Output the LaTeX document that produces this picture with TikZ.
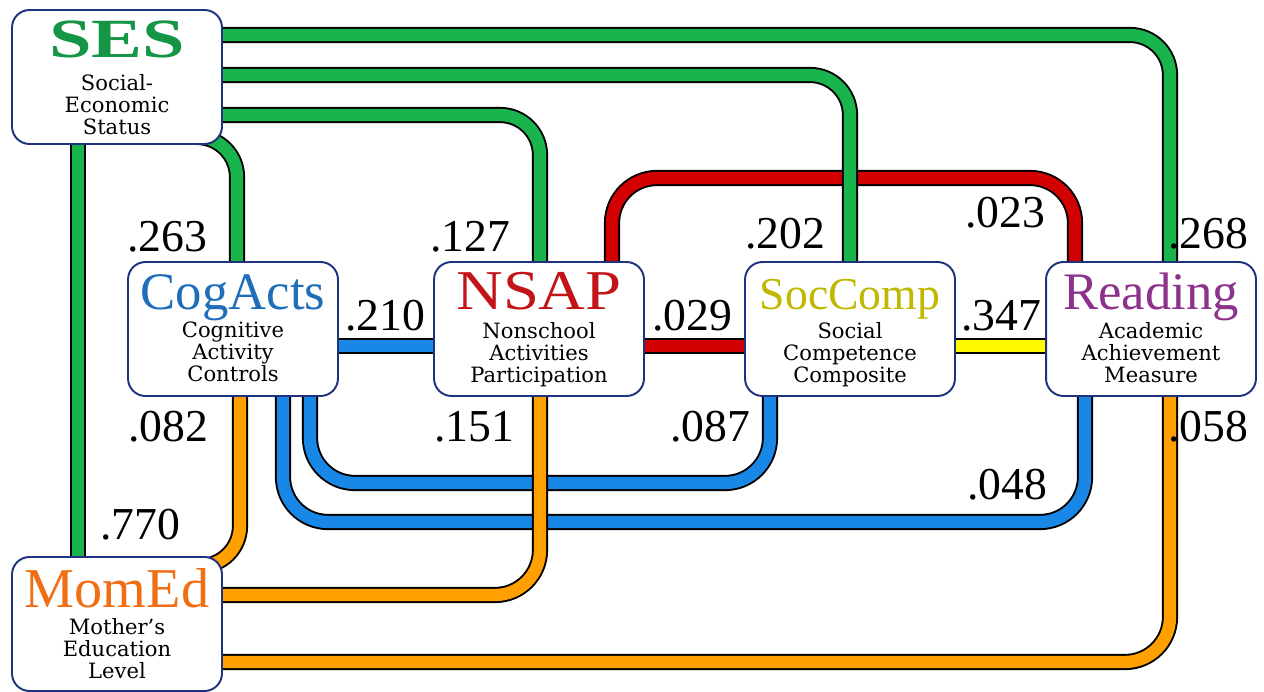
\documentclass[tikz,border=0pt]{standalone}
\usepackage{fontspec}
\setmainfont{Liberation Serif}
\newfontfamily\descfont{DejaVu Serif}
\usetikzlibrary{positioning, calc, backgrounds}

\definecolor{boxnavy}{RGB}{30,50,125}
\definecolor{sesgreen}{RGB}{20,150,70}
\definecolor{cogblue}{RGB}{30,110,185}
\definecolor{nsapred}{RGB}{195,20,25}
\definecolor{socolive}{RGB}{190,185,0}
\definecolor{readpurple}{RGB}{140,50,140}
\definecolor{momorange}{RGB}{240,110,20}
\definecolor{bandgreen}{RGB}{25,180,75}
\definecolor{bandblue}{RGB}{25,135,230}
\definecolor{bandred}{RGB}{210,0,0}
\definecolor{bandyellow}{RGB}{255,250,0}
\definecolor{bandorange}{RGB}{255,160,0}

\begin{document}
\begin{tikzpicture}[x=0.02cm, y=-0.02cm]
    \tikzstyle{var}  = [rectangle, rounded corners=0.35cm, draw=boxnavy, line width=1.1pt, fill=white, minimum width=4.2cm, minimum height=2.68cm, inner sep=0]
    \tikzstyle{ttl}  = [font=\fontsize{30}{30}\selectfont, inner sep=0, anchor=base]
    \tikzstyle{desc} = [font=\descfont\fontsize{12}{12.5}\selectfont, align=center, inner sep=0, anchor=north]
    \tikzstyle{band} = [draw=black, line width=1.1pt, double distance=7pt, rounded corners=0.9cm]
    \tikzstyle{coef} = [font=\fontsize{26}{26}\selectfont, inner sep=0]

    \useasboundingbox (0,0) rectangle (1264,692);

    % the six variables
    \node (ses)  [var] at (117,77)  {};
    \node (cog)  [var] at (233,329) {};
    \node (nsap) [var] at (539,329) {};
    \node (soc)  [var] at (850,329) {};
    \node (read) [var] at (1151,329) {};
    \node (mom)  [var] at (117,624) {};

    \node (sesT)  [ttl, text=sesgreen, font=\fontsize{30}{30}\selectfont\bfseries] at ($(ses.center)+(0,-19)$) {\scalebox{1.45}[1.05]{SES}};
    \node (cogT)  [ttl, text=cogblue] at ($(cog.center)+(0,-19)$) {CogActs};
    \node (nsapT) [ttl, text=nsapred, font=\fontsize{32}{32}\selectfont] at ($(nsap.center)+(0,-19)$) {\scalebox{1.15}[1]{NSAP}};
    \node (socT)  [ttl, text=socolive, font=\fontsize{26}{26}\selectfont] at ($(soc.center)+(0,-19)$) {SocComp};
    \node (readT) [ttl, text=readpurple] at ($(read.center)+(0,-19)$) {Reading};
    \node (momT)  [ttl, text=momorange, font=\fontsize{32}{32}\selectfont] at ($(mom.center)+(0,-17)$) {MomEd};

    \node (sesD)  [desc] at ($(ses.center)+(0,-3)$)  {Social-\\Economic\\Status};
    \node (cogD)  [desc] at ($(cog.center)+(0,-7)$)  {Cognitive\\Activity\\Controls};
    \node (nsapD) [desc] at ($(nsap.center)+(0,-7)$) {Nonschool\\Activities\\Participation};
    \node (socD)  [desc] at ($(soc.center)+(0,-7)$)  {Social\\Competence\\Composite};
    \node (readD) [desc] at ($(read.center)+(0,-7)$) {Academic\\Achievement\\Measure};
    \node (momD)  [desc] at ($(mom.center)+(0,-6)$)  {Mother’s\\Education\\Level};

    % coefficients
    \node (c263) [coef] at (167,237)  {.263};
    \node (c127) [coef] at (470,237)  {.127};
    \node (c202) [coef] at (785,234)  {.202};
    \node (c023) [coef] at (1005,213) {.023};
    \node (c268) [coef] at (1208,234) {.268};
    \node (c210) [coef] at (385,316)  {.210};
    \node (c029) [coef] at (692,316)  {.029};
    \node (c347) [coef] at (1001,316) {.347};
    \node (c082) [coef] at (168,427)  {.082};
    \node (c151) [coef] at (474,427)  {.151};
    \node (c087) [coef] at (710,427)  {.087};
    \node (c048) [coef] at (1007,485) {.048};
    \node (c058) [coef] at (1208,427) {.058};
    \node (c770) [coef] at (140,525)  {.770};

    \begin{scope}[on background layer]
        % red, blue, yellow
        \draw [band, double=bandred] (nsap.north -| 612,0) |- (840,178) -| (read.north -| 1075,0);
        \draw [band, double=bandred] (nsap.east |- 0,346) -- (soc.west |- 0,346);
        \draw [band, double=bandblue] (cog.east |- 0,346) -- (nsap.west |- 0,346);
        \draw [band, double=bandyellow] (soc.east |- 0,346) -- (read.west |- 0,346);
        \draw [band, double=bandblue] (cog.south -| 283,0) |- (700,522) -| (read.south -| 1085,0);
        \draw [band, double=bandblue] (cog.south -| 310,0) |- (540,483) -| (soc.south -| 770,0);
        % green from SES
        \draw [band, double=bandgreen, rounded corners=0.8cm] (ses.east |- 0,35) -| (read.north -| 1170,0);
        \draw [band, double=bandgreen, rounded corners=0.8cm] (ses.east |- 0,75) -| (soc.north);
        \draw [band, double=bandgreen, rounded corners=0.8cm] (ses.east |- 0,115) -| (nsap.north -| 540,0);
        \draw [band, double=bandgreen, rounded corners=0.8cm] (ses.south east |- 0,137) ++(-25,0) -| (cog.north -| 237,0);
        \draw [band, double=bandgreen] (ses.south -| 78,0) -- (mom.north -| 78,0);
        % orange to MomEd
        \draw [band, double=bandorange, rounded corners=0.8cm] (cog.south -| 240,0) |- ($(mom.north east)+(-25,10)$);
        \draw [band, double=bandorange] (nsap.south -| 540,0) |- (mom.east |- 0,595);
        \draw [band, double=bandorange] (read.south -| 1170,0) |- (mom.east |- 0,662);
    \end{scope}
\end{tikzpicture}
\end{document}
